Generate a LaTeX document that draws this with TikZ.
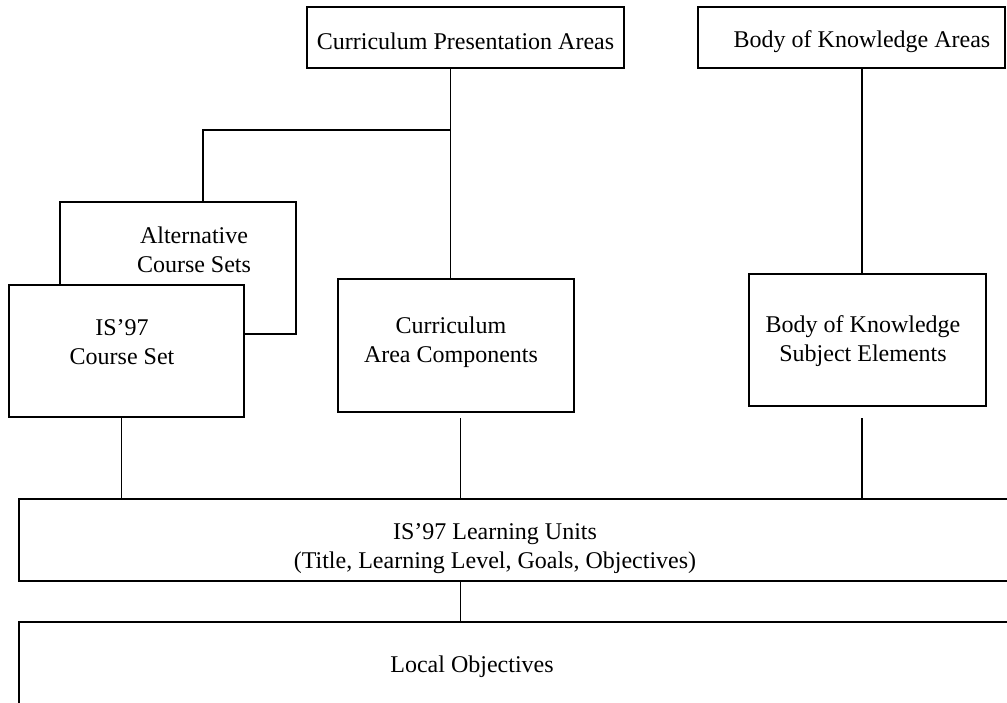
\documentclass[tikz,border=0pt]{standalone}
\usepackage{fontspec}
\setmainfont{Liberation Serif}

\tikzset{
  box/.style={draw, line width=1pt, inner sep=0pt},
  boxtext/.style={align=center, inner sep=0pt},
  link/.style={line width=0.9pt}
}

\begin{document}
\begin{tikzpicture}[x=0.5pt, y=-0.5pt, font=\fontsize{12}{14.5}\selectfont]
\clip (0,0) rectangle (1007,702);

% top row
\node[box, minimum width=158.5pt, minimum height=30.5pt,
  label={[boxtext, yshift=-2pt]center:Curriculum Presentation Areas}] (cpa) at (465.5,37.5) {};
\node[box, minimum width=153.5pt, minimum height=30.5pt,
  label={[boxtext, xshift=5.25pt, yshift=-2pt]center:Body of Knowledge Areas}] (bka) at (851.5,37.5) {};

% middle row
\node[box, fill=white, minimum width=118pt, minimum height=66pt,
  label={[boxtext, xshift=8pt, yshift=9pt]center:{Alternative\\Course Sets}}] (alt) at (178,268) {};
\node[box, fill=white, minimum width=117.5pt, minimum height=66pt,
  label={[boxtext, xshift=-2.25pt, yshift=4.5pt]center:{IS'97\\Course Set}}] (ics) at (126.5,351) {};
\node[box, minimum width=118pt, minimum height=66.5pt,
  label={[boxtext, xshift=-2.5pt, yshift=1.75pt]center:{Curriculum\\Area Components}}] (cac) at (456,345.5) {};
\node[box, minimum width=118.5pt, minimum height=66pt,
  label={[boxtext, xshift=-2.25pt, yshift=-0.5pt]center:{Body of Knowledge\\Subject Elements}}] (bse) at (867.5,340) {};

% bottom row
\node[box, minimum width=500.5pt, minimum height=41pt,
  label={[boxtext, xshift=-12.25pt, yshift=-4.5pt]center:{IS'97 Learning Units\\(Title, Learning Level, Goals, Objectives)}}] (lu) at (519.5,540) {};
\node[box, minimum width=500.5pt, minimum height=49pt,
  label={[boxtext, xshift=-23.75pt, yshift=2pt]center:Local Objectives}] (lo) at (519.5,671) {};

% connectors
\coordinate (fork) at (450.5,130);
\draw[link] ([xshift=-7.5pt]cpa.south) -- ([xshift=-7.5pt]cpa.south |- cac.north);
\draw[link] (fork) -| ([xshift=12.5pt]alt.north);
\draw[link] ([xshift=5.25pt]bka.south) -- ([xshift=5.25pt]bka.south |- bse.north);
\draw[link] ([xshift=-2.5pt]ics.south) -- ([xshift=-2.5pt]ics.south |- lu.north);
\draw[link] ([xshift=2.25pt]cac.south |- ics.south) -- ([xshift=2.25pt]cac.south |- lu.north);
\draw[link] ([xshift=-2.75pt]bse.south |- ics.south) -- ([xshift=-2.75pt]bse.south |- lu.north);
\draw[link] ([xshift=-29.5pt]lu.south) -- ([xshift=-29.5pt]lu.south |- lo.north);
\end{tikzpicture}
\end{document}
